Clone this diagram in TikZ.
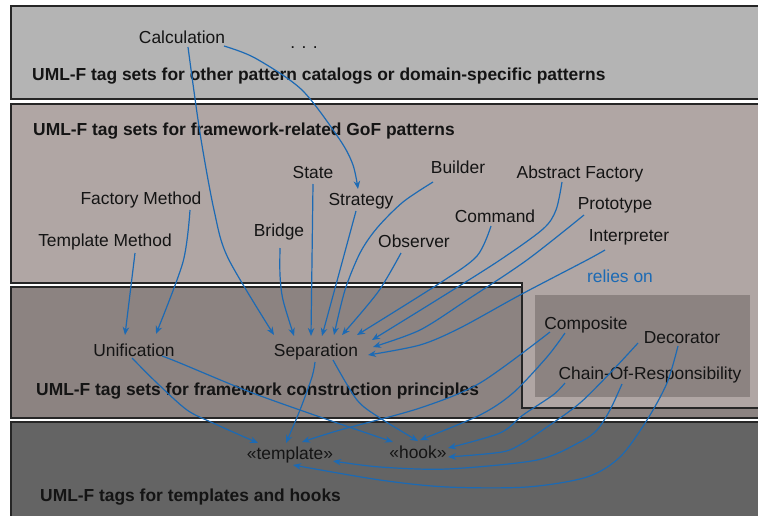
\documentclass[tikz,border=0pt]{standalone}
\usepackage{fontspec}
\setmainfont{Liberation Sans}
\usetikzlibrary{arrows.meta}
\definecolor{boxA}{RGB}{180,180,180}
\definecolor{boxB}{RGB}{176,166,164}
\definecolor{boxC}{RGB}{140,131,129}
\definecolor{boxD}{RGB}{100,100,100}
\definecolor{link}{RGB}{28,106,180}
\definecolor{ink}{RGB}{20,20,20}
\begin{document}
\begin{tikzpicture}[x=1pt,y=-1pt,
  lbl/.style={font=\fontsize{17.4}{20}\selectfont, inner sep=2pt, text height=12pt, text depth=4pt, text=ink},
  hdr/.style={lbl, font=\fontsize{17.4}{20}\selectfont\bfseries, anchor=west},
  conn/.style={draw=link, line width=1.2pt, -{Stealth[length=8pt,width=6.5pt]}},
  layer/.style={draw=black!85, line width=1.2pt}]
\useasboundingbox (0,0) rectangle (758,515);
\clip (0,0) rectangle (758,515);
\fill[white] (0,0) rectangle (758,515);
% layers
\path[layer, fill=boxA] (11,6) rectangle (770,99);
\path[layer, fill=boxC] (11,287) rectangle (770,418);
\path[layer, fill=boxB] (11,104) -- (770,104) -- (770,408) -- (522,408) -- (522,283) -- (11,283) -- cycle;
\path[layer, fill=boxD] (11,422) rectangle (770,525);
\fill[boxC] (535,295) rectangle (750,397);
% headers
\node[hdr] (h1) at (30,76) {UML-F tag sets for other pattern catalogs or domain-specific patterns};
\node[hdr] (h2) at (31,131) {UML-F tag sets for framework-related GoF patterns};
\node[hdr] (h3) at (34,391) {UML-F tag sets for framework construction principles};
\node[hdr] (h4) at (38,497) {UML-F tags for templates and hooks};
% labels
\node[lbl] (calc) at (182,39) {Calculation};
\node[lbl] (dots) at (304,44) {. . .};
\node[lbl] (state) at (313,174) {State};
\node[lbl] (strategy) at (361,201) {Strategy};
\node[lbl] (builder) at (458,169) {Builder};
\node[lbl] (absfac) at (580,174) {Abstract Factory};
\node[lbl] (factory) at (141,200) {Factory Method};
\node[lbl] (bridge) at (279,232) {Bridge};
\node[lbl] (command) at (495,218) {Command};
\node[lbl] (proto) at (615,205) {Prototype};
\node[lbl] (tmpl) at (105,242) {Template Method};
\node[lbl] (observer) at (414,243) {Observer};
\node[lbl] (interp) at (629,237) {Interpreter};
\node[lbl, text=link] (relies) at (620,278) {relies on};
\node[lbl] (unif) at (134,352) {Unification};
\node[lbl] (sep) at (316,352) {Separation};
\node[lbl] (composite) at (586,325) {Composite};
\node[lbl] (decorator) at (682,339) {Decorator};
\node[lbl] (chain) at (650,375) {Chain-Of-Responsibility};
\node[lbl] (template) at (290,455) {«template»};
\node[lbl] (hook) at (418,454) {«hook»};
% connectors
\draw[conn] plot[smooth] coordinates {([shift={(6,8)}]calc.center) (200,133) (214,210) (228,258) ([shift={(-42,-17)}]sep.center)};
\draw[conn] plot[smooth] coordinates {([shift={(42,7)}]calc.center) (255,58) (302,90) (340,140) (353,165) ([shift={(-3,-12)}]strategy.center)};
\draw[conn] plot[smooth] coordinates {([shift={(49,10)}]factory.center) (183,262) ([shift={(22,-18)}]unif.center)};
\draw[conn] ([shift={(30,11)}]tmpl.center) -- ([shift={(-9,-17)}]unif.center);
\draw[conn] plot[smooth] coordinates {([shift={(1,16)}]bridge.center) (280,275) (283,300) ([shift={(-22,-16)}]sep.center)};
\draw[conn] ([shift={(0,10)}]state.center) -- ([shift={(-5,-16)}]sep.center);
\draw[conn] plot[smooth] coordinates {([shift={(-5,10)}]strategy.center) (340,270) ([shift={(6,-16)}]sep.center)};
\draw[conn] plot[smooth] coordinates {([shift={(-25,13)}]builder.center) (403,202) (377,228) (360,253) (345,290) ([shift={(18,-17)}]sep.center)};
\draw[conn] plot[smooth] coordinates {([shift={(-13,10)}]observer.center) (378,292) ([shift={(26,-17)}]sep.center)};
\draw[conn] plot[smooth] coordinates {([shift={(-4,8)}]command.center) (477,256) (440,283) ([shift={(41,-17)}]sep.center)};
\draw[conn] plot[smooth] coordinates {([shift={(-18,8)}]absfac.center) (556,210) (543,229) (500,260) (440,298) ([shift={(56,-12)}]sep.center)};
\draw[conn] plot[smooth] coordinates {([shift={(-31,10)}]proto.center) (527,260) (467,300) (420,330) ([shift={(57,-5)}]sep.center)};
\draw[conn] plot[smooth] coordinates {([shift={(-24,13)}]interp.center) (587,260) (520,295) (460,328) (420,345) ([shift={(52,3)}]sep.center)};
\draw[conn] plot[smooth] coordinates {([shift={(-2,6)}]unif.center) (157,383) (187,410) (213,423) ([shift={(-32,-12)}]template.center)};
\draw[conn] plot[smooth] coordinates {([shift={(28,4)}]unif.center) (180,363) (250,392) (320,417) ([shift={(-25,-12)}]hook.center)};
\draw[conn] plot[smooth] coordinates {([shift={(-1,10)}]sep.center) (312,377) (300,410) ([shift={(-4,-12)}]template.center)};
\draw[conn] plot[smooth] coordinates {([shift={(17,8)}]sep.center) (357,400) (380,418) ([shift={(0,-13)}]hook.center)};
\draw[conn] plot[smooth] coordinates {([shift={(-36,7)}]composite.center) (480,383) (420,408) (340,430) ([shift={(12,-13)}]template.center)};
\draw[conn] plot[smooth] coordinates {([shift={(-21,8)}]composite.center) (547,357) (513,393) (480,415) ([shift={(2,-14)}]hook.center)};
\draw[conn] plot[smooth] coordinates {([shift={(-85,8)}]chain.center) (553,395) (523,415) (500,433) ([shift={(30,-6)}]hook.center)};
\draw[conn] plot[smooth] coordinates {([shift={(-44,4)}]decorator.center) (613,370) (580,403) (547,427) (523,443) (502,452) ([shift={(30,3)}]hook.center)};
\draw[conn] plot[smooth] coordinates {([shift={(-28,9)}]chain.center) (610,410) (597,430) (580,442) (537,460) (447,469) (380,467) ([shift={(43,6)}]template.center)};
\draw[conn] plot[smooth] coordinates {([shift={(-4,7)}]decorator.center) (667,383) (647,420) (620,457) (587,477) (527,487) (447,487) (380,480) ([shift={(3,10)}]template.center)};
\end{tikzpicture}
\end{document}
